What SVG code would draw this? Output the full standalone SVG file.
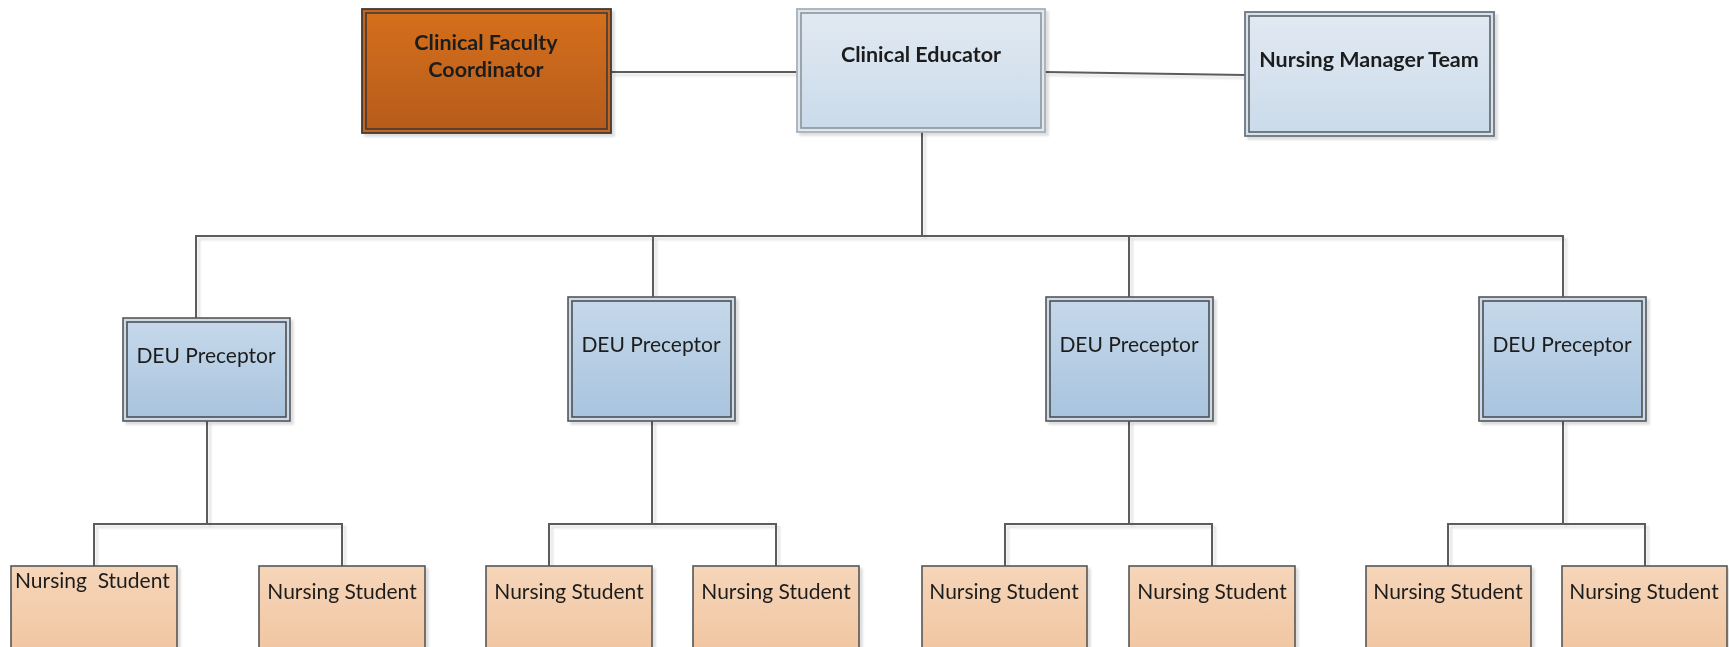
<svg xmlns="http://www.w3.org/2000/svg" width="1729" height="647" viewBox="0 0 1729 647">
  <defs>
    <linearGradient id="gOrange" x1="0" y1="0" x2="0" y2="1">
      <stop offset="0" stop-color="#d46f1f"/>
      <stop offset="1" stop-color="#b75c19"/>
    </linearGradient>
    <linearGradient id="gPale" x1="0" y1="0" x2="0" y2="1">
      <stop offset="0" stop-color="#e1e9f2"/>
      <stop offset="1" stop-color="#cbdbea"/>
    </linearGradient>
    <linearGradient id="gBlue" x1="0" y1="0" x2="0" y2="1">
      <stop offset="0" stop-color="#c5d8ea"/>
      <stop offset="1" stop-color="#a9c4de"/>
    </linearGradient>
    <linearGradient id="gPeach" x1="0" y1="0" x2="0" y2="1">
      <stop offset="0" stop-color="#f6d5b9"/>
      <stop offset="1" stop-color="#efc29b"/>
    </linearGradient>
    <filter id="shadow" x="-10%" y="-10%" width="130%" height="130%">
      <feDropShadow dx="3" dy="3" stdDeviation="1.2" flood-color="#000" flood-opacity="0.13"/>
    </filter>
  </defs>
  <style>
    .line { fill: none; stroke: #5b5b5b; stroke-width: 2; }
    .lbl { font-family: Lato, "Liberation Sans", sans-serif; fill: #1e1e1e; text-anchor: middle; }
    .bold { font-weight: bold; font-size: 21.5px; }
    .reg { font-size: 21px; }
    .outer-dark { stroke: #565656; stroke-width: 1.6; }
    .inner-dark { stroke: #4f4f4f; stroke-width: 1.6; }
  </style>

  <rect width="1729" height="647" fill="#ffffff"/>

  <!-- connectors -->
  <g id="connectors" filter="url(#shadow)">
    <path class="line" d="M611 72 H797"/>
    <path class="line" d="M1045 72 L1245 75"/>
    <path class="line" d="M922 132 V236"/>
    <path class="line" d="M196 318 V236 H1563 V297"/>
    <path class="line" d="M653 236 V297"/>
    <path class="line" d="M1129 236 V297"/>
    <path class="line" d="M207 421 V524"/>
    <path class="line" d="M94 566 V524 H342 V566"/>
    <path class="line" d="M652 421 V524"/>
    <path class="line" d="M549 566 V524 H776 V566"/>
    <path class="line" d="M1129 421 V524"/>
    <path class="line" d="M1005 566 V524 H1212 V566"/>
    <path class="line" d="M1563 421 V524"/>
    <path class="line" d="M1448 566 V524 H1645 V566"/>
  </g>

  <!-- top row -->
  <g id="clinical-faculty-coordinator" filter="url(#shadow)">
    <rect x="362" y="9" width="249" height="124" fill="#c8651c" stroke="#3f3a36" stroke-width="1.8"/>
    <rect x="366" y="13" width="241" height="116" fill="url(#gOrange)" stroke="#3f3a36" stroke-width="1.6"/>
    <text class="lbl bold" x="486" y="50">Clinical Faculty</text>
    <text class="lbl bold" x="486" y="77">Coordinator</text>
  </g>

  <g id="clinical-educator" filter="url(#shadow)">
    <rect x="797" y="9" width="248" height="123" fill="#dfe8f1" stroke="#a8b0b7" stroke-width="1.8"/>
    <rect x="801" y="13" width="240" height="115" fill="url(#gPale)" stroke="#8c949b" stroke-width="1.6"/>
    <text class="lbl bold" x="921" y="62">Clinical Educator</text>
  </g>

  <g id="nursing-manager-team" filter="url(#shadow)">
    <rect x="1245" y="12" width="249" height="124" fill="#d6e2ee" stroke="#6e767c" stroke-width="1.8"/>
    <rect x="1249" y="16" width="241" height="116" fill="url(#gPale)" stroke="#5d646a" stroke-width="1.6"/>
    <text class="lbl bold" x="1369" y="67">Nursing Manager Team</text>
  </g>

  <!-- preceptors -->
  <g id="deu-preceptor-1" filter="url(#shadow)">
    <rect class="outer-dark" x="123" y="318" width="167" height="103" fill="#c9dbec"/>
    <rect class="inner-dark" x="127" y="322" width="159" height="95" fill="url(#gBlue)"/>
    <text class="lbl reg" x="206" y="363">DEU Preceptor</text>
  </g>
  <g id="deu-preceptor-2" filter="url(#shadow)">
    <rect class="outer-dark" x="568" y="297" width="167" height="124" fill="#c9dbec"/>
    <rect class="inner-dark" x="572" y="301" width="159" height="116" fill="url(#gBlue)"/>
    <text class="lbl reg" x="651" y="352">DEU Preceptor</text>
  </g>
  <g id="deu-preceptor-3" filter="url(#shadow)">
    <rect class="outer-dark" x="1046" y="297" width="167" height="124" fill="#c9dbec"/>
    <rect class="inner-dark" x="1050" y="301" width="159" height="116" fill="url(#gBlue)"/>
    <text class="lbl reg" x="1129" y="352">DEU Preceptor</text>
  </g>
  <g id="deu-preceptor-4" filter="url(#shadow)">
    <rect class="outer-dark" x="1479" y="297" width="167" height="124" fill="#c9dbec"/>
    <rect class="inner-dark" x="1483" y="301" width="159" height="116" fill="url(#gBlue)"/>
    <text class="lbl reg" x="1562" y="352">DEU Preceptor</text>
  </g>

  <!-- students -->
  <g id="nursing-student-1" filter="url(#shadow)">
    <rect class="outer-dark" x="11" y="566" width="166" height="110" fill="url(#gPeach)"/>
    <text class="lbl reg" x="15" y="588" style="text-anchor:start; white-space:pre" xml:space="preserve">Nursing  Student</text>
  </g>
  <g id="nursing-student-2" filter="url(#shadow)">
    <rect class="outer-dark" x="259" y="566" width="166" height="110" fill="url(#gPeach)"/>
    <text class="lbl reg" x="342" y="599">Nursing Student</text>
  </g>
  <g id="nursing-student-3" filter="url(#shadow)">
    <rect class="outer-dark" x="486" y="566" width="166" height="110" fill="url(#gPeach)"/>
    <text class="lbl reg" x="569" y="599">Nursing Student</text>
  </g>
  <g id="nursing-student-4" filter="url(#shadow)">
    <rect class="outer-dark" x="693" y="566" width="166" height="110" fill="url(#gPeach)"/>
    <text class="lbl reg" x="776" y="599">Nursing Student</text>
  </g>
  <g id="nursing-student-5" filter="url(#shadow)">
    <rect class="outer-dark" x="922" y="566" width="165" height="110" fill="url(#gPeach)"/>
    <text class="lbl reg" x="1004" y="599">Nursing Student</text>
  </g>
  <g id="nursing-student-6" filter="url(#shadow)">
    <rect class="outer-dark" x="1129" y="566" width="166" height="110" fill="url(#gPeach)"/>
    <text class="lbl reg" x="1212" y="599">Nursing Student</text>
  </g>
  <g id="nursing-student-7" filter="url(#shadow)">
    <rect class="outer-dark" x="1366" y="566" width="165" height="110" fill="url(#gPeach)"/>
    <text class="lbl reg" x="1448" y="599">Nursing Student</text>
  </g>
  <g id="nursing-student-8" filter="url(#shadow)">
    <rect class="outer-dark" x="1562" y="566" width="165" height="110" fill="url(#gPeach)"/>
    <text class="lbl reg" x="1644" y="599">Nursing Student</text>
  </g>
</svg>
